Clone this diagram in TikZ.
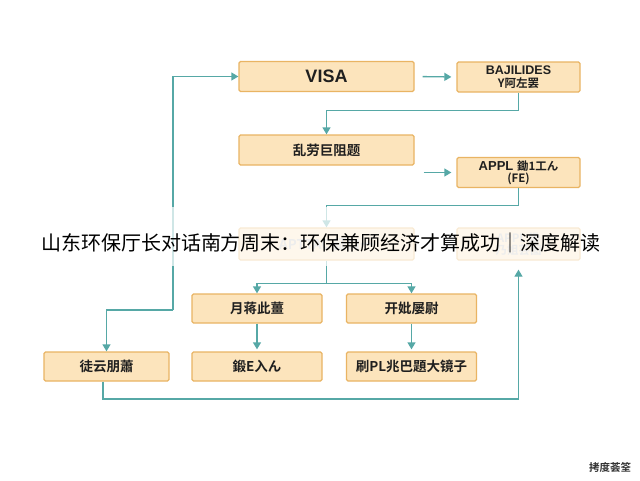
\documentclass[tikz,border=0pt]{standalone}
\usepackage{fontspec}
\usetikzlibrary{arrows.meta,calc}
\newfontfamily\cjk{Noto Sans CJK SC}[BoldFont={Noto Sans CJK SC Bold}]
\newfontfamily\lat{Liberation Sans}
\definecolor{boxfill}{HTML}{FCE4BC}
\definecolor{boxline}{HTML}{E9B463}
\definecolor{tealc}{HTML}{56A8A6}
\begin{document}
\begin{tikzpicture}[x=1pt,y=-1pt,
  box/.style={draw=boxline, fill=boxfill, line width=1.3pt, rounded corners=1.5pt, inner sep=0pt,
    align=center, text=black!88, font=\cjk\bfseries\fontsize{13.5}{14}\selectfont},
  wbox/.style={box, minimum width=175pt, minimum height=30pt},
  nbox/.style={box, minimum width=123pt, minimum height=30pt},
  sbox/.style={box, minimum width=130pt, minimum height=29pt},
  two/.style={font=\cjk\bfseries\fontsize{11.5}{12.5}\selectfont},
  ln/.style={draw=tealc, line width=1.3pt},
  arr/.style={ln, -{Triangle[width=8pt,length=7pt]}}]
\useasboundingbox (0,0) rectangle (640,480);
\fill[white] (0,0) rectangle (640,480);
% row 1
\node[wbox, font=\lat\bfseries\fontsize{18}{18}\selectfont] (visa) at (326.5,76.5) {VISA};
\node[nbox, two] (bai) at (518.5,77) {{\lat\bfseries\fontsize{12.5}{12.5}\selectfont BAJILIDES}\\Y阿左罢};
% row 2
\node[wbox] (b3) at (326.5,150) {乱劳巨阻题};
\node[nbox, two] (appl) at (518.5,172.5) {{\lat\fontsize{13}{12.5}\selectfont APPL }鋤1工ん\\(FE)};
% row 3 (behind title)
\node[wbox, minimum height=32pt, text=black!25] (b4) at (326.5,244) {APTTAC 証ロ一};
\node[nbox, two, minimum height=32pt, text=black!25] (b5) at (518.5,244) {APPL 鋤\\乃姐芸图};
% row 4
\node[sbox] (b6) at (257,308.5) {月蒋此薑};
\node[sbox] (b7) at (411.5,308.5) {开妣屡尉};
% row 5
\node[sbox, minimum width=125pt] (tu) at (106.5,366.5) {徒云朋蕭};
\node[sbox] (b9) at (257,366.5) {鍛E入ん};
\node[sbox] (b10) at (411.5,366.5) {刷PL兆巴題大镜子};
% connectors
\coordinate (j1) at (173,310);
\draw[arr] (j1) |- (visa.west);
\draw[arr] (j1) -| (tu.north);
\draw[arr, shorten <=8pt, shorten >=5pt] (visa.east) -- (bai.west);
\draw[arr] (bai.south) -- ++(0,18) -| (b3.north);
\draw[arr, shorten <=9pt, shorten >=5pt] (b3.east |- appl.west) -- (appl.west);
\draw[arr] (appl.south) -- ++(0,17) -| (b4.north);
\draw[ln] (b4.south) -- ++(0,23) coordinate (j2);
\draw[arr] (j2) -| (b6.north);
\draw[arr] (j2) -| (b7.north);
\draw[arr, shorten >=2pt] (b6.south) -- (b9.north);
\draw[arr, shorten >=2pt] (b7.south) -- (b10.north);
\coordinate (lp) at (103,399);
\draw[arr, shorten >=9pt] (tu.south -| lp) -- (lp) -| (b5.south);
% translucent band and title
\fill[white, opacity=0.72] (0,207) rectangle (640,266);
\node[font=\cjk\fontsize{20}{22}\selectfont, text=black, inner sep=0pt] (title) at (321,243)
  {山东环保厅长对话南方周末：环保兼顾经济才算成功｜深度解读};
\node[font=\cjk\bfseries\fontsize{10.5}{10}\selectfont, text=black!80, inner sep=0pt] (foot) at (610,468) {拷度荟筌};
\end{tikzpicture}
\end{document}
